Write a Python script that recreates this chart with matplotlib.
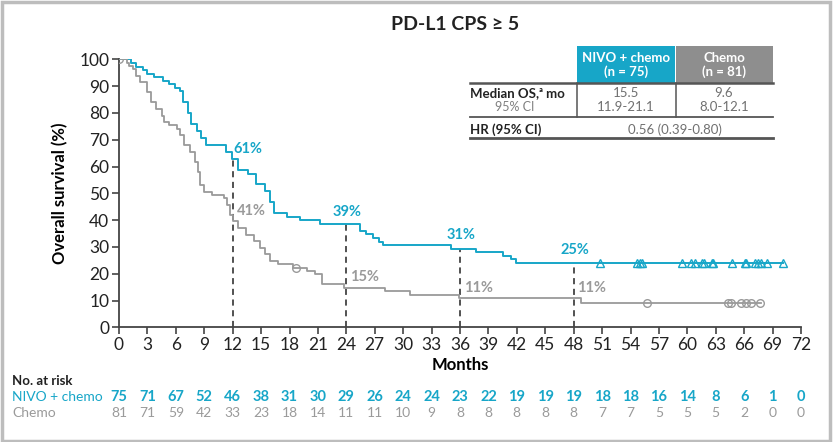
import numpy as np
import matplotlib
matplotlib.use("Agg")
import matplotlib.pyplot as plt
from matplotlib.patches import Rectangle
from matplotlib.lines import Line2D
from matplotlib.transforms import blended_transform_factory

# Kaplan-Meier step data (months, OS %)
nivo_t = [0, 1.3, 1.8, 2.5, 3.0, 3.7, 4.6, 5.3, 5.9, 6.4, 6.8, 7.3, 7.6, 8.2, 8.7, 9.2,
          11.3, 11.9, 12.6, 13.6, 14.5, 15.4, 15.9, 16.4, 17.7, 19.1, 21.2,
          25.4, 26.1, 26.8, 27.5, 27.9, 35.1, 37.7, 40.5, 41.4, 41.9, 58.5]
nivo_s = [100, 98.7, 97.3, 96.0, 94.7, 93.3, 92.0, 90.7, 89.3, 88.0, 84.0, 80.0, 76.0, 73.3, 70.7, 68.0,
          65.3, 62.7, 58.7, 57.3, 53.3, 50.7, 46.7, 42.7, 41.3, 40.0, 38.7,
          36.0, 34.7, 33.3, 32.0, 30.7, 29.3, 28.0, 26.7, 25.3, 24.0, 24.0]
nivo_end = 70.1
nivo_cens = [50.8, 54.7, 55.0, 55.2, 59.4, 60.4, 60.8, 61.5, 61.8, 62.6, 62.7, 64.7,
             66.1, 66.2, 67.1, 67.5, 67.8, 68.4, 70.1]

chemo_t = [0, 0.8, 1.1, 1.5, 1.8, 2.2, 3.0, 3.4, 3.9, 4.5, 4.8, 5.3, 6.1, 6.4, 6.9, 7.5, 8.0,
           8.3, 8.5, 9.0, 9.8, 11.1, 11.4, 11.7, 12.0, 12.6, 13.4, 14.2, 14.9, 15.4, 15.9,
           16.8, 18.4, 19.8, 20.7, 21.4, 23.8, 28.1, 30.7, 35.9, 48.8]
chemo_s = [100, 98.8, 97.5, 96.3, 93.8, 91.4, 87.7, 84.0, 81.5, 79.0, 76.5, 75.3, 74.1, 71.6, 67.9, 65.4, 61.7,
           58.0, 53.1, 50.6, 49.4, 48.1, 45.7, 42.0, 39.5, 37.0, 34.6, 32.1, 29.6, 27.2, 24.7,
           23.5, 22.2, 21.0, 19.8, 16.0, 14.8, 13.6, 12.0, 10.8, 8.9]
chemo_end = 67.8
chemo_cens = [0, 18.7, 55.7, 64.3, 64.6, 65.7, 66.2, 66.7, 67.7]

# landmark annotations
marks = [12, 24, 36, 48]
nivo_pct = ["61%", "39%", "31%", "25%"]
chemo_pct = ["41%", "15%", "11%", "11%"]

risk_times = list(range(0, 73, 3))
risk_nivo = [75, 71, 67, 52, 46, 38, 31, 30, 29, 26, 24, 24, 23, 22, 19, 19, 19, 18, 18, 16, 14, 8, 6, 1, 0]
risk_chemo = [81, 71, 59, 42, 33, 23, 18, 14, 11, 11, 10, 9, 8, 8, 8, 8, 8, 7, 7, 5, 5, 5, 2, 0, 0]

BLUE = "#17a6c8"
GRAY = "#9a9a9a"
DARK = "#222222"

plt.rcParams['font.family'] = ['Lato', 'DejaVu Sans']


def surv_at(t, times, vals):
    idx = np.searchsorted(times, t, side='right') - 1
    return np.asarray(vals)[idx]


W, H = 833, 442
fig = plt.figure(figsize=(W / 100, H / 100), dpi=100)
ax = fig.add_axes([119 / W, 1 - 327.3 / H, 682 / W, 268 / H])


def px(x, y):
    return x / W, 1 - y / H


# curves
ax.step(nivo_t + [nivo_end], nivo_s + [nivo_s[-1]], where='post', color=BLUE, lw=1.4, zorder=3)
ax.step(chemo_t + [chemo_end], chemo_s + [chemo_s[-1]], where='post', color=GRAY, lw=1.3, zorder=3)
ax.plot(nivo_cens, surv_at(nivo_cens, nivo_t, nivo_s), ls='none', marker='^', ms=5.5,
        mfc='none', mec=BLUE, mew=1.0, zorder=4)
ax.plot(chemo_cens, surv_at(chemo_cens, chemo_t, chemo_s), ls='none', marker='o', ms=5.5,
        mfc='none', mec=GRAY, mew=1.0, zorder=4)

# landmark lines and labels
for m, nl, cl in zip(marks, nivo_pct, chemo_pct):
    top = surv_at(m, nivo_t, nivo_s)
    ax.plot([m, m], [0, top], ls=(0, (4, 3)), color=DARK, lw=1.1, zorder=2)
    cv = surv_at(m, chemo_t, chemo_s)
    if m == 12:
        ax.text(m + 0.1, 66.5, nl, color=BLUE, fontsize=10.5, fontweight='bold', va='center', ha='left')
    else:
        ax.text(m + 0.1, top + (4.3 if m == 24 else 5.0), nl, color=BLUE, fontsize=10.5,
                fontweight='bold', va='center', ha='center')
    ax.text(m + 0.4, cv + 3.9, cl, color=GRAY, fontsize=10.5, fontweight='bold', va='center', ha='left')

ax.set_xlim(0, 72)
ax.set_ylim(0, 100)
ax.set_xticks(risk_times)
ax.set_yticks(range(0, 101, 10))
ax.spines['top'].set_visible(False)
ax.spines['right'].set_visible(False)
for s in ('left', 'bottom'):
    ax.spines[s].set_color('#444444')
    ax.spines[s].set_linewidth(1.3)
ax.tick_params(direction='out', length=5, width=1.2, color='#444444', labelsize=12.5,
               labelcolor='#222222', pad=2)
ax.set_xlabel("Months", fontsize=12, fontweight='bold', labelpad=3)
ax.set_ylabel("Overall survival (%)", fontsize=12, fontweight='bold', labelpad=8)
ax.patch.set_alpha(0)

fig.text(*px(455, 25), "PD-L1 CPS \u2265 5", fontsize=14, fontweight='bold', ha='center', va='center',
         color='#222222')

# summary table
fig.patches.append(Rectangle(px(576.7, 82.7), 98.3 / W, 36.7 / H, transform=fig.transFigure,
                             facecolor=BLUE, edgecolor='none', figure=fig))
fig.patches.append(Rectangle(px(675.5, 82.7), 97.8 / W, 36.7 / H, transform=fig.transFigure,
                             facecolor='#8e8e8e', edgecolor='none', figure=fig))
hdr = [("NIVO + chemo", "(n = 75)", 626), ("Chemo", "(n = 81)", 724)]
for a, b, cx in hdr:
    fig.text(*px(cx, 57.5), a, color='white', fontsize=9.5, fontweight='bold', ha='center', va='center')
    fig.text(*px(cx, 72), b, color='white', fontsize=9.5, fontweight='bold', ha='center', va='center')
for y, lw in [(82.7, 1.8), (116.7, 1.3), (138.3, 2.0)]:
    fig.lines.append(Line2D([470 / W, 773.3 / W], [1 - y / H] * 2, transform=fig.transFigure,
                            color='#555555', lw=lw))
for x in (576.7, 675.5):
    fig.lines.append(Line2D([x / W] * 2, [1 - 82.7 / H, 1 - 116.7 / H], transform=fig.transFigure,
                            color='#555555', lw=1.1))
fig.text(*px(470, 92.7), "Median OS,\u1d43 mo", fontsize=9.5, fontweight='bold', ha='left', va='center',
         color='#222222')
fig.text(*px(515, 106.7), "95% CI", fontsize=9, ha='center', va='center', color='#808080')
fig.text(*px(626, 92.7), "15.5", fontsize=9.5, ha='center', va='center', color='#707070')
fig.text(*px(626, 106.7), "11.9-21.1", fontsize=9.5, ha='center', va='center', color='#707070')
fig.text(*px(724, 92.7), "9.6", fontsize=9.5, ha='center', va='center', color='#707070')
fig.text(*px(724, 106.7), "8.0-12.1", fontsize=9.5, ha='center', va='center', color='#707070')
fig.text(*px(470, 129.3), "HR (95% CI)", fontsize=9.5, fontweight='bold', ha='left', va='center',
         color='#222222')
fig.text(*px(675, 129.3), "0.56 (0.39-0.80)", fontsize=9.5, ha='center', va='center', color='#707070')

# number at risk
tr = blended_transform_factory(ax.transData, fig.transFigure)
fig.text(*px(12, 381), "No. at risk", fontsize=9.5, fontweight='bold', ha='left', va='center', color='#222222')
fig.text(*px(12, 397), "NIVO + chemo", fontsize=10, ha='left', va='center', color=BLUE)
fig.text(*px(12, 413), "Chemo", fontsize=10, ha='left', va='center', color=GRAY)
for t, a, b in zip(risk_times, risk_nivo, risk_chemo):
    ax.text(t, 1 - 397 / H, str(a), transform=tr, fontsize=10.5, fontweight='bold', color=BLUE,
            ha='center', va='center', clip_on=False)
    ax.text(t, 1 - 413 / H, str(b), transform=tr, fontsize=10, color=GRAY,
            ha='center', va='center', clip_on=False)

# outer frame
fig.patches.append(Rectangle((0.002, 0.003), 0.994, 0.993, transform=fig.transFigure,
                             facecolor='none', edgecolor='#bdbdbd', lw=2.5, figure=fig))

fig.savefig("out.png", dpi=100)
